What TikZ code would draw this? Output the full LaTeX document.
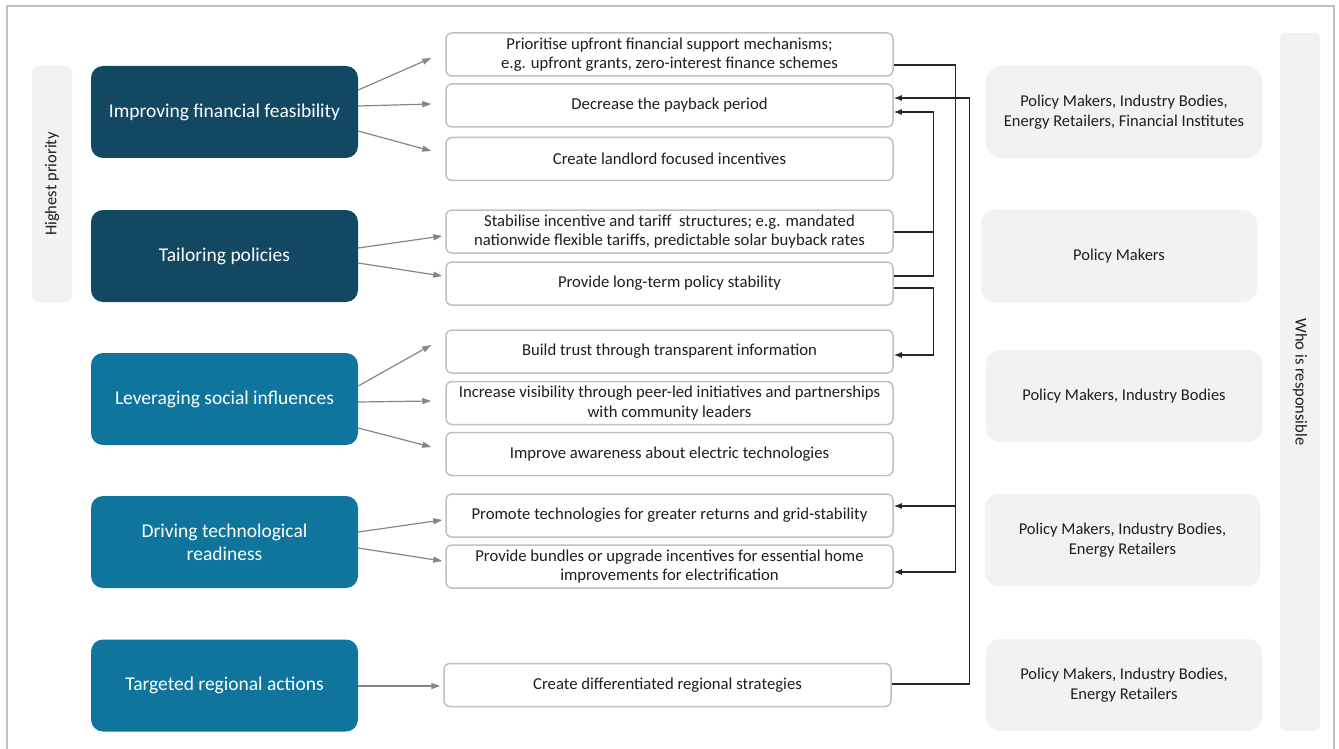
\documentclass[tikz,border=0pt]{standalone}
\usepackage{fontspec}
\setmainfont{Carlito}
\usetikzlibrary{arrows.meta}

\definecolor{navy}{HTML}{134862}
\definecolor{petrol}{HTML}{0F759D}
\definecolor{panel}{HTML}{F2F2F2}
\definecolor{rim}{HTML}{C0C0C0}
\definecolor{ink}{HTML}{1E1E1E}

\tikzset{
  area/.style={rounded corners=12pt, minimum width=267pt, minimum height=92pt,
    text=white, align=center, font=\fontsize{19.5}{23}\selectfont},
  action/.style={draw=rim, line width=1.5pt, rounded corners=6pt, fill=white,
    minimum width=447pt, minimum height=43pt, inner sep=1pt, text=ink, align=center,
    font=\fontsize{16.7}{19.5}\selectfont},
  owner/.style={fill=panel, rounded corners=14pt, minimum width=276pt,
    minimum height=92pt, text=ink, align=center, font=\fontsize{16.5}{20}\selectfont},
  band/.style={fill=panel, rounded corners=6pt, minimum height=40pt,
    text=ink, font=\fontsize{16.5}{19}\selectfont},
  push/.style={draw=gray!95, line width=1.2pt, -{Triangle[length=9pt,width=6pt]}},
  link/.style={draw=black!85, line width=1.3pt, -{Latex[length=8pt,width=6pt]}},
  bus/.style={draw=black!85, line width=1.3pt}
}

\begin{document}
\begin{tikzpicture}[x=1pt,y=-1pt]
    \useasboundingbox (0,0) rectangle (1339,749);
    \draw[rim, line width=1.5pt] (7,749) -- (7,6) -- (1334,6) -- (1334,749);

    % side bands
    \node[band, rotate=90, minimum width=236pt] (high) at (52,184) {Highest priority};
    \node[band, rotate=-90, minimum width=698pt] (who) at (1300,382) {Who is responsible};

    % focus areas
    \node[area, fill=navy] (f1) at (224.5,112) {Improving financial feasibility};
    \node[area, fill=navy] (f2) at (224.5,256) {Tailoring policies};
    \node[area, fill=petrol] (f3) at (224.5,399) {Leveraging social influences};
    \node[area, fill=petrol] (f4) at (224.5,542) {Driving technological\\readiness};
    \node[area, fill=petrol] (f5) at (224.5,685.5) {Targeted regional actions};

    % actions
    \node[action] (m1) at (669.5,54.5) {Prioritise upfront financial support mechanisms;\\e.g. upfront grants, zero-interest finance schemes};
    \node[action] (m2) at (669.5,105.5) {Decrease the payback period};
    \node[action] (m3) at (669.5,159) {Create landlord focused incentives};
    \node[action] (m4) at (669.5,231.5) {Stabilise incentive and tariff\ \ structures; e.g. mandated\\nationwide flexible tariffs, predictable solar buyback rates};
    \node[action] (m5) at (669.5,283.5) {Provide long-term policy stability};
    \node[action] (m6) at (669.5,351.5) {Build trust through transparent information};
    \node[action] (m7) at (669.5,403) {Increase visibility through peer-led initiatives and partnerships\\with community leaders};
    \node[action] (m8) at (669.5,454) {Improve awareness about electric technologies};
    \node[action] (m9) at (669.5,515.5) {Promote technologies for greater returns and grid-stability};
    \node[action] (m10) at (669.5,566.5) {Provide bundles or upgrade incentives for essential home\\improvements for electrification};
    \node[action] (m11) at (667.5,685) {Create differentiated regional strategies};

    % who is responsible
    \node[owner] (o1) at (1124,112) {Policy Makers, Industry Bodies,\\Energy Retailers, Financial Institutes};
    \node[owner] (o2) at (1119,256) {Policy Makers};
    \node[owner] (o3) at (1124,396) {Policy Makers, Industry Bodies};
    \node[owner] (o4) at (1122.5,540) {Policy Makers, Industry Bodies,\\Energy Retailers};
    \node[owner] (o5) at (1124,685) {Policy Makers, Industry Bodies,\\Energy Retailers};

    % areas to actions
    \draw[push] ([yshift=22pt]f1.east) -- ([xshift=-14pt,yshift=-3.5pt]m1.west);
    \draw[push] ([yshift=6pt]f1.east) -- ([xshift=-14pt,yshift=1.5pt]m2.west);
    \draw[push] ([yshift=-19pt]f1.east) -- ([xshift=-14pt,yshift=8pt]m3.west);
    \draw[push] ([yshift=8pt]f2.east) -- ([xshift=-3pt,yshift=-4.5pt]m4.west);
    \draw[push] ([yshift=-7pt]f2.east) -- ([xshift=-3pt,yshift=7.5pt]m5.west);
    \draw[push] ([yshift=13pt]f3.east) -- ([xshift=-14pt,yshift=6.5pt]m6.west);
    \draw[push] ([yshift=-3pt]f3.east) -- ([xshift=-14pt,yshift=2pt]m7.west);
    \draw[push] ([yshift=-29pt]f3.east) -- ([xshift=-14pt,yshift=7pt]m8.west);
    \draw[push] ([yshift=10pt]f4.east) -- ([xshift=-3pt,yshift=-4.5pt]m9.west);
    \draw[push] ([yshift=-6pt]f4.east) -- ([xshift=-3pt,yshift=5.5pt]m10.west);
    \draw[push] ([yshift=-0.5pt]f5.east) -- ([xshift=-3pt,yshift=-1pt]m11.west);

    % links between actions
    \draw[link] ([yshift=-10.5pt]m1.east) -- ++(62,0) |- ([yshift=-5.5pt]m10.east);
    \draw[link] ([xshift=62pt,yshift=9.5pt]m9.east) -- ([yshift=9.5pt]m9.east);
    \draw[link] ([yshift=1pt]m11.east) -- ++(78,0) |- ([yshift=7.5pt]m2.east);
    \draw[bus] ([yshift=-0.5pt]m4.east) -- ++(40,0);
    \draw[link] ([yshift=7.5pt]m5.east) -- ++(40,0) |- ([yshift=-6.5pt]m2.east);
    \draw[link] ([yshift=-4.5pt]m5.east) -- ++(40,0) |- ([yshift=-3.5pt]m6.east);
\end{tikzpicture}
\end{document}
